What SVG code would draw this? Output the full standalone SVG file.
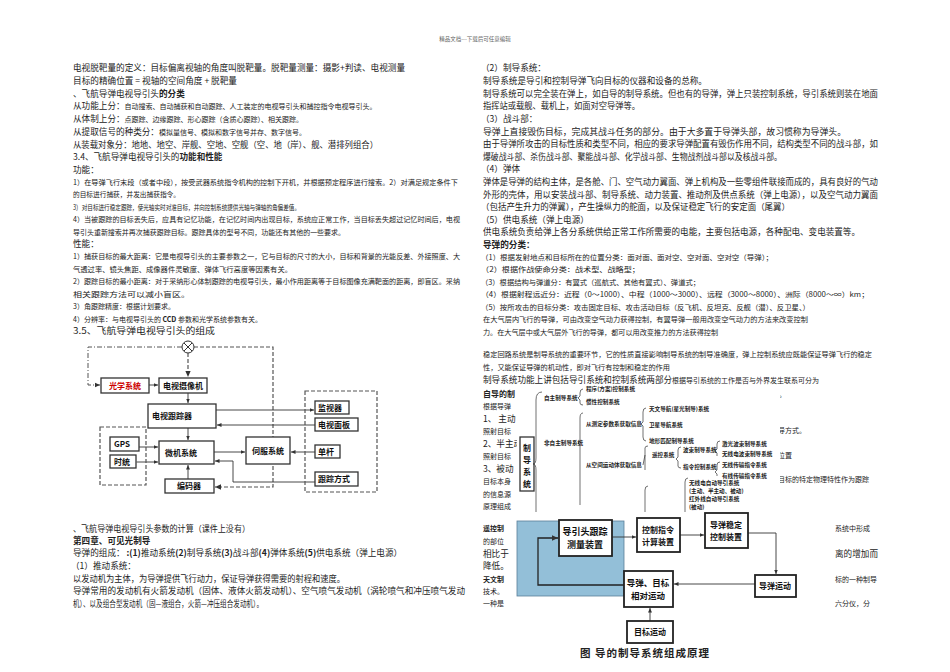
<svg xmlns="http://www.w3.org/2000/svg" width="950" height="672" viewBox="0 0 950 672">
<defs>
<style>
text{font-family:"Noto Sans CJK SC","Liberation Serif",serif;fill:#222}
.m{font-size:8.6px}
.s{font-size:7px}
.b{font-weight:bold}
.t{font-size:5.6px;font-weight:bold}
.bx{fill:#fff;stroke:#333;stroke-width:1.3}
.bb{fill:#fff;stroke:#222;stroke-width:1.8}
.dl{fill:none;stroke:#555;stroke-width:1.2;stroke-dasharray:4 2}
.dd{fill:none;stroke:#555;stroke-width:1;stroke-dasharray:5 2 1 2}
.ln{fill:none;stroke:#333;stroke-width:0.9}
.ck{fill:none;stroke:#333;stroke-width:0.7}
.lb{font-size:8px;font-weight:bold;fill:#111}
</style>
<marker id="a" markerWidth="6" markerHeight="6" refX="5" refY="3" orient="auto"><path d="M0,0.8 L5,3 L0,5.2Z" fill="#333"/></marker>
</defs>
<rect width="950" height="672" fill="#fff"/>
<text x="475" y="41" style="font-size:5.5px;fill:#666" text-anchor="middle">精品文档---下载后可任意编辑</text>

<g id="left-text">
<text class="m" x="73" y="71" textLength="332" lengthAdjust="spacingAndGlyphs">电视脱靶量的定义：目标偏离视轴的角度叫脱靶量。脱靶量测量：摄影+判读、电视测量</text>
<text class="m" x="73" y="84" textLength="164" lengthAdjust="spacingAndGlyphs">目标的精确位置 = 视轴的空间角度 + 脱靶量</text>
<text class="m" x="73" y="97">、飞航导弹电视导引头<tspan class="b">的分类</tspan></text>
<text class="m" x="73" y="109">从功能上分：<tspan class="s">自动搜索、自动捕获和自动跟踪、人工装定的电视导引头和捕控指令电视导引头。</tspan></text>
<text class="m" x="73" y="122">从体制上分：<tspan class="s">点跟踪、边缘跟踪、形心跟踪（含质心跟踪）、相关跟踪。</tspan></text>
<text class="m" x="73" y="135">从提取信号的种类分：<tspan class="s">模拟量信号、模拟和数字信号并存、数字信号。</tspan></text>
<text class="m" x="73" y="148" textLength="305" lengthAdjust="spacingAndGlyphs">从装载对象分：地地、地空、岸舰、空地、空舰（空、地（岸）、舰、潜排列组合）</text>
<text class="m" x="73" y="160">3.4、飞航导弹电视导引头的<tspan class="b">功能和性能</tspan></text>
<text class="m" x="73" y="173">功能：</text>
<text class="s" x="73" y="185" textLength="385" lengthAdjust="spacingAndGlyphs">1）在导弹飞行末段（或者中段），按受武器系统指令机构的控制下开机，并根据预定程序进行搜索。2）对满足规定条件下</text>
<text class="s" x="73" y="197" textLength="107" lengthAdjust="spacingAndGlyphs">的目标进行捕获，并发出捕获指令。</text>
<text class="s" x="73" y="210" textLength="227" lengthAdjust="spacingAndGlyphs">3）对目标进行稳定跟踪，使光轴实时对准目标，并向控制系统提供光轴与弹轴的角偏差值。</text>
<text class="s" x="73" y="222" textLength="387" lengthAdjust="spacingAndGlyphs">4）当被跟踪的目标丢失后，应具有记忆功能，在记忆时间内出现目标，系统应正常工作，当目标丢失超过记忆时间后，电视</text>
<text class="s" x="73" y="235" textLength="272" lengthAdjust="spacingAndGlyphs">导引头重新搜索并再次捕获跟踪目标。跟踪具体的型号不同，功能还有其他的一些要求。</text>
<text class="m" x="73" y="247">性能：</text>
<text class="s" x="73" y="259" textLength="387" lengthAdjust="spacingAndGlyphs">1）捕获目标的最大距离：它是电视导引头的主要参数之一，它与目标的尺寸的大小，目标和背景的光能反差、外接照度、大</text>
<text class="s" x="73" y="272" textLength="219" lengthAdjust="spacingAndGlyphs">气透过率、镜头焦距、成像器件灵敏度、弹体飞行高度等因素有关。</text>
<text class="s" x="73" y="284" textLength="387" lengthAdjust="spacingAndGlyphs">2）跟踪目标的最小距离：对于采纳形心体制跟踪的电视导引头，最小作用距离等于目标图像充满靶面的距离，即盲区。采纳</text>
<text class="s" x="73" y="297" textLength="117" lengthAdjust="spacingAndGlyphs">相关跟踪方法可以减小盲区。</text>
<text class="s" x="73" y="309" textLength="102" lengthAdjust="spacingAndGlyphs">3）角跟踪精度：根据计划要求。</text>
<text class="s" x="73" y="322">4）分辨率：与电视导引头的 <tspan class="b">CCD</tspan> 参数和光学系统参数有关。</text>
<text class="m" x="73" y="334" textLength="142" lengthAdjust="spacingAndGlyphs">3.5、飞航导弹电视导引头的组成</text>
<text class="m" x="73" y="532" textLength="177" lengthAdjust="spacingAndGlyphs">、飞航导弹电视导引头参数的计算（课件上没有）</text>
<text class="m b" x="73" y="544">第四章、可见光制导</text>
<text class="m" x="73" y="556">导弹的组成： <tspan class="b">:(1)</tspan>推动系统<tspan class="b">(2)</tspan>制导系统<tspan class="b">(3)</tspan>战斗部<tspan class="b">(4)</tspan>弹体系统<tspan class="b">(5)</tspan>供电系统（弹上电源）</text>
<text class="m" x="71" y="569">（1）推动系统：</text>
<text class="m" x="73" y="582" textLength="272" lengthAdjust="spacingAndGlyphs">以发动机为主体，为导弹提供飞行动力，保证导弹获得需要的射程和速度。</text>
<text class="m" x="73" y="594" textLength="392" lengthAdjust="spacingAndGlyphs">导弹常用的发动机有火箭发动机（固体、液体火箭发动机）、空气喷气发动机（涡轮喷气和冲压喷气发动</text>
<text class="m" x="73" y="607" textLength="190" lengthAdjust="spacingAndGlyphs">机）、以及组合型发动机（固—液组合，火箭—冲压组合发动机）。</text>
</g>

<g id="tv-seeker-diagram">
<g id="connectors-left">
<path class="dd" d="M182,347 H88 V385 H100" marker-end="url(#a)"/>
<path class="dl" d="M194,347 H273 V487 H215" marker-end="url(#a)"/>
<path class="dl" d="M188,353 V377" marker-end="url(#a)"/>
<path class="ln" d="M149,385 H158" marker-end="url(#a)"/>
<path class="ln" d="M188,393 V403" marker-end="url(#a)"/>
<path class="ln" d="M188,428 V440" marker-end="url(#a)"/>
<path class="ln" d="M216,410 H314" marker-end="url(#a)"/>
<path class="ln" d="M315,425 H217" marker-end="url(#a)"/>
<path class="ln" d="M139,447 H158" marker-end="url(#a)"/>
<path class="ln" d="M137,462 H158" marker-end="url(#a)" marker-start="url(#a)"/>
<path class="ln" d="M214,452 H245" marker-end="url(#a)"/>
<path class="ln" d="M315,452 H291" marker-end="url(#a)"/>
<path class="ln" d="M315,482 H233 V461 H215" marker-end="url(#a)"/>
<path class="ln" d="M188,479 V465" marker-end="url(#a)"/>
</g>
<circle cx="188" cy="347" r="6" fill="#fff" stroke="#333" stroke-width="1"/>
<path d="M184,343 L192,351 M192,343 L184,351" stroke="#333" stroke-width="1"/>
<rect class="dl" x="100" y="427" width="46" height="58"/>
<rect class="dl" x="305" y="391" width="72" height="101"/>
<g id="n-optics"><rect class="bx" x="101" y="378" width="48" height="15"/><text class="lb" x="125" y="389" text-anchor="middle" style="fill:#c00">光学系统</text></g>
<g id="n-camera"><rect class="bx" x="159" y="378" width="48" height="15"/><text class="lb" x="183" y="389" text-anchor="middle">电视摄像机</text></g>
<g id="n-tracker"><rect class="bx" x="148" y="404" width="68" height="24"/><text class="lb" x="152" y="419">电视跟踪器</text></g>
<g id="n-gps"><rect class="bx" x="110" y="437" width="29" height="14"/><text class="lb" x="114" y="447">GPS</text></g>
<g id="n-clock"><rect class="bx" x="110" y="455" width="26" height="13"/><text class="lb" x="114" y="465">时统</text></g>
<g id="n-micro"><rect class="bx" x="159" y="441" width="55" height="23"/><text class="lb" x="165" y="456">微机系统</text></g>
<g id="n-servo"><rect class="bx" x="246" y="437" width="44" height="27"/><text class="lb" x="268" y="454" text-anchor="middle">伺服系统</text></g>
<g id="n-encoder"><rect class="bx" x="165" y="479" width="49" height="14"/><text class="lb" x="189" y="489" text-anchor="middle">编码器</text></g>
<g id="n-monitor"><rect class="bx" x="315" y="401" width="34" height="13"/><text class="lb" x="318" y="411">监视器</text></g>
<g id="n-panel"><rect class="bx" x="315" y="418" width="43" height="13"/><text class="lb" x="318" y="428">电视面板</text></g>
<g id="n-stick"><rect class="bx" x="315" y="445" width="25" height="13"/><text class="lb" x="318" y="455">单杆</text></g>
<g id="n-mode"><rect class="bx" x="315" y="472" width="43" height="14"/><text class="lb" x="318" y="482">跟踪方式</text></g>
</g>

<g id="right-text">
<text class="m" x="481" y="71">（2）制导系统：</text>
<text class="m" x="483" y="84" textLength="224" lengthAdjust="spacingAndGlyphs">制导系统是导引和控制导弹飞向目标的仪器和设备的总称。</text>
<text class="m" x="483" y="97" textLength="395" lengthAdjust="spacingAndGlyphs">制导系统可以完全装在弹上，如自导的制导系统。但也有的导弹，弹上只装控制系统，导引系统则装在地面</text>
<text class="m" x="483" y="109" textLength="157" lengthAdjust="spacingAndGlyphs">指挥站或载舰、载机上，如面对空导弹等。</text>
<text class="m" x="481" y="122">（3）战斗部：</text>
<text class="m" x="483" y="135" textLength="363" lengthAdjust="spacingAndGlyphs">导弹上直接毁伤目标，完成其战斗任务的部分。由于大多置于导弹头部，故习惯称为导弹头。</text>
<text class="m" x="483" y="147" textLength="395" lengthAdjust="spacingAndGlyphs">由于导弹所攻击的目标性质和类型不同，相应的要求导弹配置有毁伤作用不同，结构类型不同的战斗部，如</text>
<text class="m" x="483" y="160" textLength="299" lengthAdjust="spacingAndGlyphs">爆破战斗部、杀伤战斗部、聚能战斗部、化学战斗部、生物战剂战斗部以及核战斗部。</text>
<text class="m" x="481" y="172">（4）弹体</text>
<text class="m" x="483" y="185" textLength="395" lengthAdjust="spacingAndGlyphs">弹体是导弹的结构主体，是各舱、门、空气动力翼面、弹上机构及一些零组件联接而成的，具有良好的气动</text>
<text class="m" x="483" y="198" textLength="395" lengthAdjust="spacingAndGlyphs">外形的壳体，用以安装战斗部、制导系统、动力装置、推动剂及供点系统（弹上电源），以及空气动力翼面</text>
<text class="m" x="481" y="210" textLength="309" lengthAdjust="spacingAndGlyphs">（包括产生升力的弹翼），产生操纵力的舵面，以及保证稳定飞行的安定面（尾翼）</text>
<text class="m" x="481" y="223">（5）供电系统（弹上电源）</text>
<text class="m" x="483" y="235" textLength="377" lengthAdjust="spacingAndGlyphs">供电系统负责给弹上各分系统供给正常工作所需要的电能，主要包括电源，各种配电、变电装置等。</text>
<text class="m b" x="483" y="248">导弹的分类：</text>
<text class="s" x="481" y="260" textLength="292" lengthAdjust="spacingAndGlyphs">（1）根据发射地点和目标所在的位置分类：面对面、面对空、空对面、空对空（导弹）；</text>
<text class="s" x="481" y="272" textLength="159" lengthAdjust="spacingAndGlyphs">（2）根据作战使命分类：战术型、战略型；</text>
<text class="s" x="481" y="285" textLength="219" lengthAdjust="spacingAndGlyphs">（3）根据结构与弹道分：有翼式（巡航式、其他有翼式）、弹道式；</text>
<text class="s" x="481" y="297" textLength="388" lengthAdjust="spacingAndGlyphs">（4）根据射程远近分：近程（0～1000）、中程（1000～3000）、远程（3000～8000）、洲际（8000～∞）km；</text>
<text class="s" x="481" y="310" textLength="329" lengthAdjust="spacingAndGlyphs">（5）按所攻击的目标分类：攻击固定目标、攻击活动目标（反飞机、反坦克、反舰（潜）、反卫星、）</text>
<text class="s" x="483" y="322" textLength="325" lengthAdjust="spacingAndGlyphs">在大气层内飞行的导弹，可由改变空气动力获得控制，有翼导弹一般用改变空气动力的方法来改变控制</text>
<text class="s" x="483" y="335" textLength="235" lengthAdjust="spacingAndGlyphs">力。在大气层中或大气层外飞行的导弹，都可以用改变推力的方法获得控制</text>
<text class="s" x="483" y="357" textLength="389" lengthAdjust="spacingAndGlyphs">稳定回路系统是制导系统的重要环节，它的性质直接影响制导系统的制导准确度，弹上控制系统应既能保证导弹飞行的稳定</text>
<text class="s" x="483" y="370" textLength="187" lengthAdjust="spacingAndGlyphs">性，又能保证导弹的机动性，即对飞行有控制和稳定的作用</text>
<text x="483" y="383" style="font-size:8.6px">制导系统功能上讲包括导引系统和控制系统两部分<tspan style="font-size:7px">根据导引系统的工作是否与外界发生联系可分为</tspan></text>
<text class="b" x="483" y="397" style="font-size:8px">自导的制</text>
<text class="s" x="483" y="409">根据导弹</text>
<text class="m" x="483" y="422">1、 主动</text>
<text class="s" x="483" y="434">照射目标</text>
<text class="m" x="483" y="447">2、半主动</text>
<text class="s" x="483" y="459">照射目标</text>
<text class="m" x="483" y="472">3、被动</text>
<text class="s" x="483" y="484">目标本身</text>
<text class="s" x="483" y="497">的信息源</text>
<text class="s" x="483" y="509">原理组成</text>
<text class="s" x="779" y="397">。</text>
<text class="s" x="778" y="433">导方式。</text>
<text class="s" x="778" y="458">位置</text>
<text class="s" x="778" y="482">目标的特定物理特性作为跟踪</text>
<text class="s b" x="483" y="531">遥控制</text>
<text class="s" x="483" y="544">的部位</text>
<text class="m" x="483" y="557">相比于</text>
<text class="m" x="483" y="569">降低。</text>
<text class="s b" x="483" y="582">天文制</text>
<text class="s" x="483" y="594">技术。</text>
<text class="s" x="483" y="606">一种是</text>
<text class="s" x="835" y="531">系统中形成</text>
<text class="m" x="835" y="557">离的增加而</text>
<text class="s" x="835" y="582">标的一种制导</text>
<text class="s" x="835" y="606">六分仪，分</text>
</g>

<g id="guidance-tree">
<rect x="517" y="386" width="263" height="124" fill="#fff"/>
<g id="t-root"><rect class="bx" x="520" y="437" width="14" height="54"/>
<text x="527" y="451" class="lb" text-anchor="middle">制</text><text x="527" y="463" class="lb" text-anchor="middle">导</text><text x="527" y="475" class="lb" text-anchor="middle">系</text><text x="527" y="487" class="lb" text-anchor="middle">统</text></g>
<g id="tree-braces">
<path class="ck" d="M542,392 Q536,392 536,400 V458 Q536,464 533,464 Q536,464 536,470 V512"/>
<path class="ck" d="M583,389 Q580,389 580,393 V396 L578,398 L580,400 V403 Q580,405 583,405"/>
<path class="ck" d="M583,413 Q580,413 580,418 V441 L578,443 L580,445 V505"/>
<path class="ck" d="M646,408 Q643,408 643,412 V422 L641,424 L643,426 V437 Q643,441 646,441"/>
<path class="ck" d="M648,486 Q645,486 645,490 V512 M645,470 V455 L643,465 M645,455 V448 Q645,446 648,446"/>
<path class="ck" d="M681,447 Q678,447 678,450 V457 L676,459 L678,461 V466 Q678,468 681,468"/>
<path class="ck" d="M720,441 Q717,441 717,444 V449 L715,451 L717,453 V456"/>
<path class="ck" d="M720,462 Q717,462 717,465 V470 L715,472 L717,474 V476"/>
<path class="ck" d="M688,478 Q685,478 685,482 V512"/>
</g>
<g id="tree-labels">
<text class="t" x="544" y="400">自主制导系统</text>
<text class="t" x="586" y="391">程序(方案)控制系统</text>
<text class="t" x="586" y="404">惯性控制系统</text>
<text class="t" x="544" y="445">非自主制导系统</text>
<text class="t" x="586" y="426">从测定参数系获取信息</text>
<text class="t" x="649" y="411">天文导航(星光制导)系统</text>
<text class="t" x="649" y="427">卫星导航系统</text>
<text class="t" x="649" y="443">地形匹配制导系统</text>
<text class="t" x="586" y="467">从空间运动体获取信息</text>
<text class="t" x="652" y="457">遥控系统</text>
<text class="t" x="683" y="452">波束制导系统</text>
<text class="t" x="683" y="469">指令控制系统</text>
<text class="t" x="722" y="446">激光波束制导系统</text>
<text class="t" x="722" y="456">无线电波束制导系统</text>
<text class="t" x="722" y="467">无线传输指令系统</text>
<text class="t" x="722" y="478">有线传输指令系统</text>
<text class="t" x="689" y="485">无线电自动导引系统</text>
<text class="t" x="689" y="493">(主动、半主动、被动)</text>
<text class="t" x="689" y="501">红外线自动导引系统</text>
<text class="t" x="689" y="509">(被动)</text>
</g>
</g>

<g id="guidance-block-diagram">
<rect x="517" y="521" width="107" height="75" fill="#93bfd8" stroke="#5a7f99" stroke-width="0.8"/>
<g id="connectors-right">
<path class="ln" d="M612,537 H636" marker-end="url(#a)"/>
<path class="ln" d="M680,535 H704" marker-end="url(#a)"/>
<path class="ln" d="M748,533 H776 V574" marker-end="url(#a)"/>
<path class="ln" d="M755,584 H674" marker-end="url(#a)"/>
<path class="ln" d="M650,621 V608" marker-end="url(#a)"/>
<path d="M624,585 H538 V538 H558" fill="none" stroke="#222" stroke-width="1.3" marker-end="url(#a)"/>
</g>
<g id="b-seeker"><rect class="bb" x="559" y="520" width="53" height="36"/><text class="lb" x="585" y="535" text-anchor="middle" style="font-size:9px">导引头跟踪</text><text class="lb" x="585" y="548" text-anchor="middle" style="font-size:9px">测量装置</text></g>
<g id="b-calc"><rect class="bb" x="637" y="518" width="43" height="34"/><text class="lb" x="658" y="533" text-anchor="middle">控制指令</text><text class="lb" x="658" y="545" text-anchor="middle">计算装置</text></g>
<g id="b-stab"><rect class="bb" x="705" y="513" width="43" height="35"/><text class="lb" x="726" y="528" text-anchor="middle">导弹稳定</text><text class="lb" x="726" y="540" text-anchor="middle">控制装置</text></g>
<g id="b-motion"><rect class="bb" x="755" y="575" width="41" height="22"/><text class="lb" x="775" y="589" text-anchor="middle">导弹运动</text></g>
<g id="b-rel"><rect class="bb" x="624" y="571" width="49" height="36"/><text class="lb" x="648" y="586" text-anchor="middle" style="font-size:8.5px">导弹、目标</text><text class="lb" x="648" y="599" text-anchor="middle" style="font-size:8.5px">相对运动</text></g>
<g id="b-target"><rect class="bb" x="627" y="621" width="46" height="22"/><text class="lb" x="650" y="635" text-anchor="middle">目标运动</text></g>
<text x="580" y="657" style="font-size:10.5px;font-weight:bold;letter-spacing:1px">图  导的制导系统组成原理</text>
</g>
</svg>
